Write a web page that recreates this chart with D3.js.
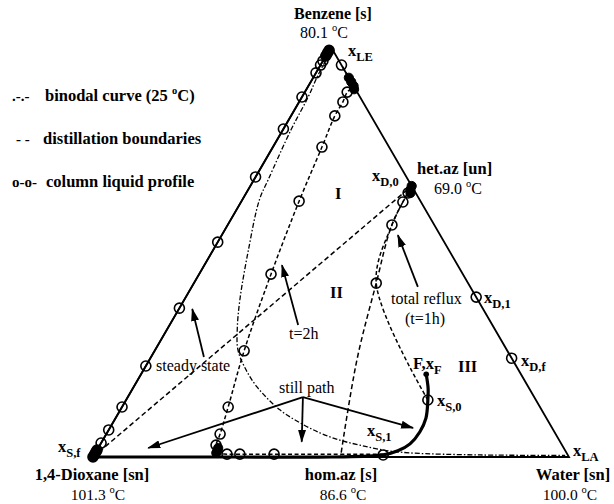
<!DOCTYPE html>
<html>
<head>
<meta charset="utf-8">
<script src="https://cdn.jsdelivr.net/npm/d3@7"></script>
<style>
  body { margin: 0; background: #fff; }
  text { font-family: "Liberation Serif", "Times New Roman", serif; fill: #000; }
</style>
</head>
<body>
<svg id="chart" width="614" height="504"></svg>
<script>
// Compositions are [x_benzene, x_water]; 1,4-dioxane makes up the balance.

// Binodal curve at 25 °C
const binodal = [[0.99,0.005],[0.932,0.007],[0.878,0.013],[0.798,0.017],[0.676,0.03],[0.627,0.036],
  [0.505,0.074],[0.383,0.117],[0.31,0.148],[0.261,0.174],[0.217,0.211],[0.171,0.259],[0.115,0.335],
  [0.083,0.394],[0.059,0.447],[0.041,0.498],[0.029,0.546],[0.017,0.601],[0.01,0.661],[0.005,0.811],[0.004,0.99]];

// Distillation boundaries
const boundaryDioxane = [[0,0],[0.661,0.339]];
const boundaryHomAz = [[0.661,0.339],[0.566,0.345],[0.424,0.383],[0.237,0.436],[0.0,0.52]];

// Column liquid profiles
const steadyState = [[0,0],[0.006,0],[0.012,0],[0.017,0],[0.034,0],[0.066,0],[0.122,0],[0.222,0],
  [0.363,0],[0.524,0],[0.683,0],[0.8,0],[0.878,0],[0.937,0],[0.956,0],[0.966,0],[0.978,0],[0.985,0],[0.992,0]];
const totalReflux = [[0.139,0.634],[0.424,0.383],[0.566,0.345],[0.622,0.34],[0.644,0.34],[0.652,0.341],[0.661,0.339]];
const profile2h = [[0.007,0.606],[0.007,0.377],[0.007,0.305],[0.007,0.278],[0.01,0.256],[0.016,0.252],
  [0.029,0.244],[0.056,0.239],[0.122,0.223],[0.259,0.188],[0.446,0.151],[0.624,0.121],[0.756,0.103],
  [0.832,0.092],[0.866,0.092],[0.89,0.089],[0.905,0.095],[0.915,0.085],[0.925,0.075],[0.956,0.044]];
const steadyCircles = steadyState;
const refluxCircles = [[0.424,0.383],[0.566,0.345],[0.622,0.34],[0.644,0.34]];
const profile2hCircles = [[0.007,0.377],[0.007,0.305],[0.007,0.278],[0.029,0.244],[0.056,0.239],
  [0.122,0.223],[0.259,0.188],[0.446,0.151],[0.624,0.121],[0.756,0.103],[0.832,0.092],[0.866,0.092],
  [0.89,0.089],[0.956,0.044]];

// Pinch clusters (many overlapping stages)
const pinchPoints = [[0,0],[0.008,0],[0.016,0],[0.985,0],[0.992,0],[0.978,0],
  [0.652,0.341],[0.661,0.339],[0.644,0.345],
  [0.905,0.095],[0.915,0.085],[0.925,0.075],[0.897,0.1],
  [0.01,0.254],[0.016,0.254],[0.022,0.252]];

// Still path from feed F to the final still composition
const stillPath = [[0.202,0.599],[0.168,0.62],[0.139,0.634],[0.095,0.652],[0.061,0.656],[0.032,0.65],
  [0.015,0.633],[0.005,0.607],[0,0.5],[0,0.3],[0,0.1],[0,0]];
const stillCircles = [[0.139,0.634],[0.005,0.607]];
const feedPoint = [0.202,0.599];

// Distillate compositions on the benzene–water edge
const distillates = [[0.39,0.61],[0.241,0.759]];

// Annotation arrows: [from, to]
const arrows = [
  [[0.244,0.111],[0.361,0.028]],   // steady state
  [[0.322,0.270],[0.468,0.163]],   // t=2h
  [[0.415,0.475],[0.541,0.370]],   // total reflux
  [[0.146,0.368],[0.022,0.105]],   // still path
  [[0.146,0.368],[0.037,0.420]],
  [[0.146,0.368],[0.071,0.637]]
];

const legendKeys = [".-.-", "- -", "o-o-"];
const legendLabels = ["binodal curve (25 ", "distillation boundaries", "column liquid profile"];

const svg = d3.select("#chart");
const xs = d3.scaleLinear().domain([0, 1]).range([93, 569]);
const ys = d3.scaleLinear().domain([0, 1]).range([457, 47]);
const pos = d => [xs(d[1] + d[0] / 2), ys(d[0])];
const line = d3.line().x(d => pos(d)[0]).y(d => pos(d)[1]);
const smooth = d3.line().x(d => pos(d)[0]).y(d => pos(d)[1]).curve(d3.curveCatmullRom.alpha(0.5));

svg.append("defs").append("marker")
  .attr("id", "head").attr("viewBox", "0 0 13 8").attr("refX", 12).attr("refY", 4)
  .attr("markerWidth", 13).attr("markerHeight", 8).attr("markerUnits", "userSpaceOnUse")
  .attr("orient", "auto")
  .append("path").attr("d", "M0,0 L13,4 L0,8 Z").attr("fill", "#000");

// triangle
svg.append("path")
  .attr("d", line([[0,0],[0,1],[1,0],[0,0]]))
  .attr("fill", "none").attr("stroke", "#000").attr("stroke-width", 1.8);

// binodal
svg.append("path").attr("d", smooth(binodal))
  .attr("fill", "none").attr("stroke", "#000").attr("stroke-width", 1.3)
  .attr("stroke-dasharray", "5,2,1.5,2");

// distillation boundaries
[boundaryDioxane, boundaryHomAz].forEach(b => {
  svg.append("path").attr("d", smooth(b))
    .attr("fill", "none").attr("stroke", "#000").attr("stroke-width", 1.5)
    .attr("stroke-dasharray", "5,3");
});

// profiles
svg.append("path").attr("d", line(steadyState))
  .attr("fill", "none").attr("stroke", "#000").attr("stroke-width", 1.8);
[totalReflux, profile2h].forEach(p => {
  svg.append("path").attr("d", smooth(p))
    .attr("fill", "none").attr("stroke", "#000").attr("stroke-width", 1.5)
    .attr("stroke-dasharray", "4,2.5");
});

// still path
svg.append("path").attr("d", smooth(stillPath))
  .attr("fill", "none").attr("stroke", "#000").attr("stroke-width", 3.2)
  .attr("stroke-linecap", "round");

// circles
const circ = steadyCircles.concat(refluxCircles, profile2hCircles, stillCircles, distillates);
svg.append("g").selectAll("circle").data(circ).join("circle")
  .attr("cx", d => pos(d)[0]).attr("cy", d => pos(d)[1]).attr("r", 5)
  .attr("fill", "none").attr("stroke", "#000").attr("stroke-width", 1.6);
svg.append("g").selectAll("circle").data(pinchPoints).join("circle")
  .attr("cx", d => pos(d)[0]).attr("cy", d => pos(d)[1]).attr("r", 4.6)
  .attr("fill", "#000").attr("stroke", "#000").attr("stroke-width", 1);
svg.append("circle").attr("cx", pos(feedPoint)[0]).attr("cy", pos(feedPoint)[1]).attr("r", 2.8)
  .attr("fill", "#000");

// arrows
svg.append("g").selectAll("line").data(arrows).join("line")
  .attr("x1", d => pos(d[0])[0]).attr("y1", d => pos(d[0])[1])
  .attr("x2", d => pos(d[1])[0]).attr("y2", d => pos(d[1])[1])
  .attr("stroke", "#000").attr("stroke-width", 1.8).attr("marker-end", "url(#head)");

// text helpers
const BOLD = 16.5, REG = 16, SUB = 12.5;
function label(x, y, text, opts = {}) {
  return svg.append("text").attr("x", x).attr("y", y)
    .attr("font-size", opts.size || REG)
    .attr("font-weight", opts.bold ? "bold" : "normal")
    .attr("text-anchor", opts.anchor || "start")
    .text(text);
}
function tempLabel(x, y, v, size) {
  const t = svg.append("text").attr("x", x).attr("y", y).attr("font-size", size || REG).attr("text-anchor", "middle");
  t.append("tspan").text(v + " ");
  t.append("tspan").text("o").attr("font-size", 10.5).attr("dy", -7);
  t.append("tspan").text("C").attr("dy", 7);
}
function xLabel(x, y, sub) {
  const t = svg.append("text").attr("x", x).attr("y", y).attr("font-size", BOLD).attr("font-weight", "bold");
  t.append("tspan").text("x");
  t.append("tspan").text(sub).attr("font-size", SUB).attr("dy", 5);
  return t;
}

// legend
const legY = [101, 144, 187];
legendKeys.forEach((k, i) => label([12, 16, 12][i], legY[i], k, {bold: true, size: 15}));
legendLabels.forEach((k, i) => {
  const t = label([45, 43, 46][i], legY[i], k, {bold: true, size: BOLD});
  if (i === 0) {
    t.append("tspan").text("o").attr("font-size", 10.5).attr("dy", -7);
    t.append("tspan").text("C)").attr("dy", 7);
  }
});

// vertex and azeotrope labels
label(333, 19, "Benzene [s]", {bold: true, anchor: "middle", size: 16});
tempLabel(324, 38, "80.1");
xLabel(348, 56, "LE");
label(417, 174, "het.az [un]", {bold: true, size: BOLD});
tempLabel(458, 194, "69.0");
xLabel(372, 181, "D,0");
label(92, 480, "1,4-Dioxane [sn]", {bold: true, anchor: "middle", size: BOLD});
tempLabel(98, 500, "101.3", 15.5);
label(341, 480, "hom.az [s]", {bold: true, anchor: "middle", size: BOLD});
tempLabel(343, 500, "86.6", 15.5);
label(573, 480, "Water [sn]", {bold: true, anchor: "middle", size: BOLD});
tempLabel(570, 500, "100.0", 15.5);

// region labels
label(335, 199, "I", {bold: true, size: BOLD});
label(330, 298, "II", {bold: true, size: BOLD});
label(458, 372, "III", {bold: true, size: BOLD});

// annotations
label(391, 304, "total reflux");
label(425, 324, "(t=1h)", {anchor: "middle"});
label(289, 339, "t=2h");
label(156, 371, "steady state");
label(279, 393, "still path");
xLabel(484, 303, "D,1");
xLabel(521, 366, "D,f");
xLabel(437, 406, "S,0");
xLabel(367, 436, "S,1");
xLabel(573, 456, "LA");
xLabel(58, 452, "S,f");
const fx = svg.append("text").attr("x", 413).attr("y", 369).attr("font-size", BOLD).attr("font-weight", "bold");
fx.append("tspan").text("F,x");
fx.append("tspan").text("F").attr("font-size", SUB).attr("dy", 5);
</script>
</body>
</html>
